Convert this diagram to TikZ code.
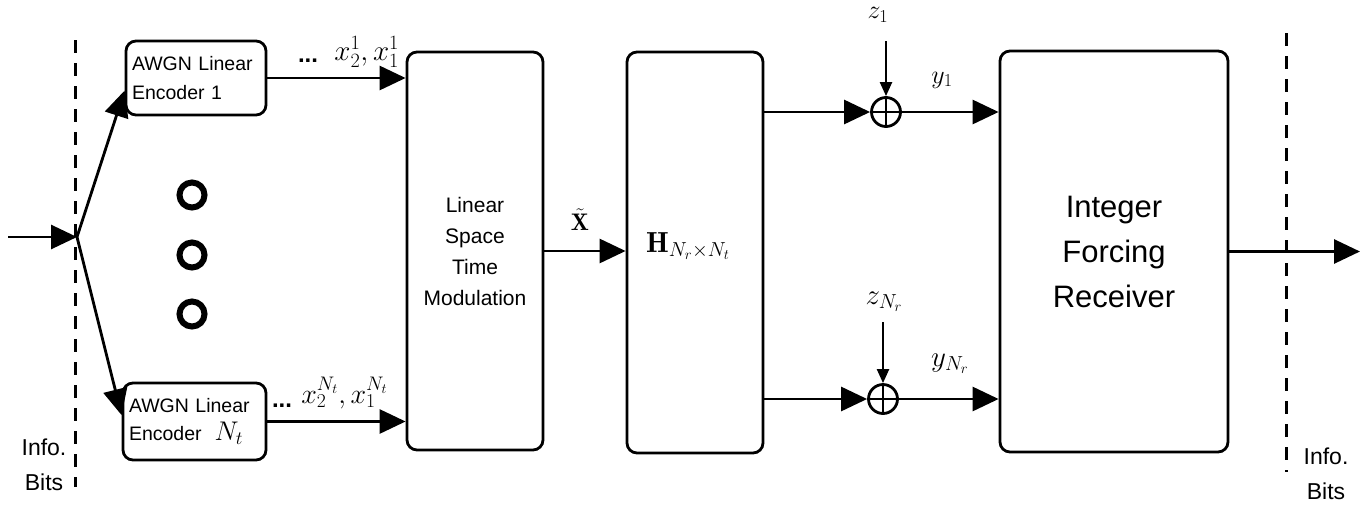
\RequirePackage{fix-cm}
\documentclass[tikz,border=0pt]{standalone}
\usepackage{fontspec}
\newfontfamily\arial{Liberation Sans}
\usetikzlibrary{arrows.meta}
\begin{document}
\begin{tikzpicture}[x=1pt,y=-1pt,
 line width=2.8pt,
 blk/.style={draw, rounded corners=10pt, inner sep=0pt, align=center},
 arr/.style={-{Triangle[length=26pt,width=24pt]}},
 sarr/.style={line width=2.2pt,-{Triangle[length=14pt,width=12pt]}},
 sumn/.style={draw, circle, minimum size=29pt, inner sep=0pt},
 enctxt/.style={font=\arial\fontsize{19.5}{29}\selectfont},
 mth/.style={font=\fontsize{26}{30}\selectfont, inner sep=0pt},
 dsh/.style={line width=3pt, dash pattern=on 13pt off 10pt},
 ring/.style={draw, circle, line width=6pt, minimum size=25pt, inner sep=0pt},
 infotxt/.style={font=\arial\fontsize{23}{35}\selectfont, align=center, inner sep=0pt},
 dotstxt/.style={font=\arial\bfseries\fontsize{24}{24}\selectfont, inner sep=0pt, anchor=base},
]
\useasboundingbox (0,0) rectangle (1371,504);

% blocks
\node[blk, minimum width=140pt, minimum height=74pt, text width=128pt, align=left, enctxt] (e1) at (196,78) {AWGN Linear\\Encoder 1};
\node[blk, minimum width=143pt, minimum height=77pt, text width=131pt, align=left, enctxt, font=\arial\fontsize{19.5}{28}\selectfont] (eN) at (194.5,421.5) {AWGN Linear\\Encoder\ \ {\fontsize{27}{28}\selectfont$N_t$}};
\node[blk, minimum width=136pt, minimum height=398pt, font=\arial\fontsize{21}{31}\selectfont] (st) at (475,251) {Linear\\Space\\Time\\Modulation};
\node[blk, minimum width=136pt, minimum height=401pt] (H) at (695,252.5) {};
\node[mth, font=\fontsize{29}{30}\selectfont] (hl) at (688,246) {$\mathbf{H}_{N_r\times N_t}$};
\node[blk, minimum width=228pt, minimum height=401pt, font=\arial\fontsize{31}{45}\selectfont] (fr) at (1114,251.5) {Integer\\Forcing\\Receiver};

% adders
\node[sumn] (p1) at (886,112) {};
\node[sumn] (p2) at (883,399) {};
\draw (p1.north) -- (p1.south) (p1.west) -- (p1.east);
\draw (p2.north) -- (p2.south) (p2.west) -- (p2.east);

% ellipsis rings
\node[ring] (r1) at (192,195) {};
\node[ring] (r2) at (192,255) {};
\node[ring] (r3) at (192,314) {};

% dashed boundaries
\coordinate (dl1) at (75,40);
\coordinate (dl2) at (75,487);
\draw[dsh] (dl1) -- (dl2);
\coordinate (dr1) at (1286,33);
\coordinate (dr2) at (1286,472);
\draw[dsh] (dr1) -- (dr2);

% connectors
\coordinate (in) at (8,237);
\coordinate (sp) at (77,237);
\draw[arr] (in) -- (sp);
\draw[arr] (sp) -- (e1.190);
\draw[arr] (sp) -- (eN.175);
\draw[arr] (e1.east) -- (e1.east -| st.west);
\draw[arr] (eN.east) -- (eN.east -| st.west);
\draw[arr] (st.east) -- (st.east -| H.west);
\draw[arr] (H.east |- p1) -- (p1.west);
\draw[arr] (p1.east) -- (p1 -| fr.west);
\draw[arr] (H.east |- p2) -- (p2.west);
\draw[arr] (p2.east) -- (p2 -| fr.west);
\coordinate (out) at (1360,251.5);
\draw[arr] (fr.east) -- (out);
\coordinate (z1s) at (886,41);
\draw[sarr] (z1s) -- (p1.north);
\coordinate (z2s) at (883,322);
\draw[sarr] (z2s) -- (p2.north);

% labels
\node[dotstxt] (d1) at (308,62) {...};
\node[mth, anchor=base west, font=\fontsize{29}{30}\selectfont] (l1) at (333,60) {$x_2^1, x_1^1$};
\node[dotstxt] (d2) at (282,407) {...};
\node[mth, anchor=base west, font=\fontsize{28}{30}\selectfont] (l2) at (300,403) {$x_2^{N_t}, x_1^{N_t}$};
\node[mth, font=\fontsize{24}{30}\selectfont] (xl) at (580,220) {$\tilde{\mathbf{X}}$};
\node[mth] (z1) at (878,15) {$z_1$};
\node[mth] (y1) at (942,80) {$y_1$};
\node[mth, font=\fontsize{29}{30}\selectfont] (z2) at (884,302) {$z_{N_r}$};
\node[mth, font=\fontsize{29}{30}\selectfont] (y2) at (950,364) {$y_{N_r}$};
\node[infotxt] (ib1) at (44,465) {Info.\\Bits};
\node[infotxt] (ib2) at (1326,474) {Info.\\Bits};
\end{tikzpicture}
\end{document}
